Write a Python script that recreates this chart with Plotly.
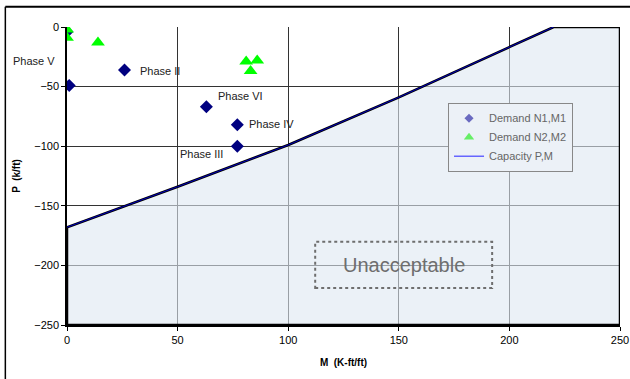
import plotly.graph_objects as go

# Demand N1,M1 (diamonds)
m1 = [0, 1, 26, 63, 77, 77]
n1 = [-4, -49, -36, -67, -82, -100]
# Demand N2,M2 (triangles)
m2 = [0, 0, 14, 81, 86, 83]
n2 = [-2, -9, -13, -29, -28, -37]
# Capacity P,M
cap_m = [0, 50, 100, 150, 220, 250]
cap_p = [-168, -134, -99, -59, 0, 0]

labels = ["Phase V", "Phase II", "Phase VI", "Phase IV", "Phase III"]
label_m = [-14.8, 42, 78.4, 92.3, 60.7]
label_p = [-28.3, -36.7, -58, -81.5, -106.7]

x_ticks = [0, 50, 100, 150, 200, 250]
y_ticks = [0, -50, -100, -150, -200, -250]

X_RANGE = [0, 250]
Y_RANGE = [-250, 0]

fig = go.Figure()

# filled region below capacity
fill_x = [0] + cap_m + [250, 0]
fill_y = [-250] + cap_p + [-250, -250]
fig.add_trace(go.Scatter(x=fill_x, y=fill_y, mode="lines", fill="toself",
                         fillcolor="rgba(222,231,241,0.6)",
                         line=dict(color="black", width=2.5),
                         showlegend=False, hoverinfo="skip"))
fig.add_trace(go.Scatter(x=cap_m[:5], y=cap_p[:5], mode="lines",
                         line=dict(color="#0000ee", width=0.8),
                         showlegend=False, hoverinfo="skip"))

fig.add_trace(go.Scatter(x=m1, y=n1, mode="markers",
                         marker=dict(symbol="diamond", size=10, color="#000080"),
                         showlegend=False))
fig.add_trace(go.Scatter(x=m2, y=n2, mode="markers",
                         marker=dict(symbol="triangle-up", size=12, color="#00ff00"),
                         showlegend=False))

# legend entries
fig.add_trace(go.Scatter(x=[None], y=[None], mode="markers", name="Demand N1,M1",
                         marker=dict(symbol="diamond", size=7, color="#6a6ac0")))
fig.add_trace(go.Scatter(x=[None], y=[None], mode="markers", name="Demand N2,M2",
                         marker=dict(symbol="triangle-up", size=9, color="#66ee66")))
fig.add_trace(go.Scatter(x=[None], y=[None], mode="lines", name="Capacity P,M",
                         line=dict(color="#6666ff", width=1.5)))

for t, xm, yp in zip(labels, label_m, label_p):
    # paper x so labels outside the axis range remain visible
    xp = (xm - X_RANGE[0]) / (X_RANGE[1] - X_RANGE[0])
    fig.add_annotation(x=xp, xref="paper", y=yp, text=t, showarrow=False,
                       xanchor="center", yanchor="middle",
                       font=dict(family="Liberation Sans, Arial", size=11, color="#222222"))

# Unacceptable box
fig.add_shape(type="rect", x0=112.2, x1=192.2, y0=-218.9, y1=-180.2,
              line=dict(color="#6e6e6e", width=2, dash="dot"), fillcolor="rgba(0,0,0,0)")
fig.add_annotation(x=152.2, y=-199.7, text="Unacceptable", showarrow=False,
                   font=dict(family="Liberation Sans, Arial", size=20, color="#6e6e6e"))

# outer chart border (top and left edges visible)
fig.add_shape(type="line", xref="paper", yref="paper", x0=-0.1115, x1=1.05, y0=1.068, y1=1.068,
              line=dict(color="black", width=2))
fig.add_shape(type="line", xref="paper", yref="paper", x0=-0.1115, x1=-0.1115, y0=-0.3, y1=1.068,
              line=dict(color="black", width=1.5))

fig.update_layout(
    width=630, height=379,
    margin=dict(l=67, r=10, t=27, b=54, autoexpand=False),
    paper_bgcolor="white", plot_bgcolor="white",
    font=dict(family="Liberation Sans, Arial", size=11, color="black"),
    legend=dict(x=0.689, y=0.746, xanchor="left", yanchor="top",
                bgcolor="rgba(236,241,247,1)", bordercolor="#888888", borderwidth=1,
                font=dict(size=11, color="#666666"), tracegroupgap=0,
                itemwidth=30),
    xaxis=dict(range=X_RANGE, tickvals=x_ticks, showgrid=True, gridcolor="#333333",
               gridwidth=1, zeroline=False, showline=True, linecolor="black", linewidth=2,
               ticks="outside", ticklen=4, tickcolor="black", automargin=False,
               title=dict(text="<b>M  (K-ft/ft)</b>", font=dict(size=10), standoff=14)),
    yaxis=dict(range=Y_RANGE, tickvals=y_ticks, showgrid=True, gridcolor="#333333",
               gridwidth=1, zeroline=False, showline=True, linecolor="black", linewidth=1.5,
               ticks="outside", ticklen=4, tickcolor="black", automargin=False,
               title=dict(text="<b>P  (k/ft)</b>", font=dict(size=10), standoff=12)),
)

fig.write_html("out.html", config={"displayModeBar": False},
               post_script="document.body.style.margin='0';document.body.style.overflow='hidden';")
